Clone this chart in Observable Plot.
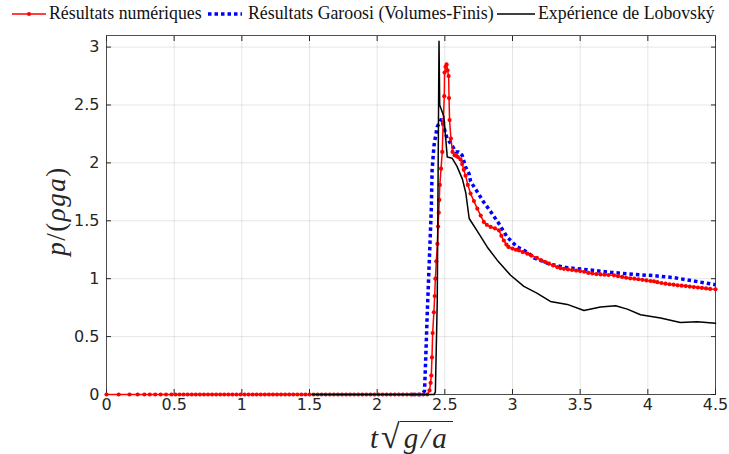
<!DOCTYPE html>
<html>
<head>
<meta charset="utf-8">
<script src="https://cdn.jsdelivr.net/npm/d3@7"></script>
<script src="https://cdn.jsdelivr.net/npm/@observablehq/plot@0.6"></script>
<style>
  html, body { margin: 0; padding: 0; background: #fff; }
  #wrap { position: relative; width: 729px; height: 454px; overflow: hidden; }
  #legend { position: relative; height: 28px; width: 729px; color: #111; font-family: 'Liberation Serif'; font-size: 17.8px; }
  #legend .it { position: absolute; top: 3px; white-space: nowrap; line-height: 20px; }
  #legend svg { position: absolute; top: 4px; }
  .lbl { position: absolute; color: #262626; white-space: nowrap; font-family: 'Liberation Serif'; line-height: 1; }
  .i { font-style: italic; }
</style>
</head>
<body>
<div id="wrap">
  <div id="legend"></div>
  <div id="chart"></div>
  <div class="lbl" id="ylab" style="font-size:27px; letter-spacing:1.5px; left:56px; top:211px; transform: translate(-50%,-50%) rotate(-90deg);"><span class="i">p</span>/(<span class="i">ρga</span>)</div>
  <div class="lbl" id="xlab" style="font-size:29px; left:370px; top:420px;"><span class="i">t</span><span style="font-style:normal; font-size:34px; margin-left:3px;">√</span><span class="i" style="display:inline-block; border-top:1.5px solid #262626; padding:2px 3px 0 4px; letter-spacing:3px; line-height:1;">g/a</span></div>
</div>
<script>
// ---- Data ----
const seriesNames = ["Résultats numériques", "Résultats Garoosi (Volumes-Finis)", "Expérience de Lobovský"];
const seriesColors = ["#ff0000", "#0000ff", "#000000"];

const xTicks = [0, 0.5, 1, 1.5, 2, 2.5, 3, 3.5, 4, 4.5];
const yTicks = [0, 0.5, 1, 1.5, 2, 2.5, 3];

// Numerical results (red)
const redT = [0, 0.09, 0.17, 0.23, 0.28, 0.32, 0.36, 0.40, 0.44, 0.48, 0.51, 0.54, 0.57, 0.60, 0.63, 0.66, 0.69, 0.72, 0.75, 0.78, 0.81, 0.84, 0.87, 0.90, 0.93, 0.96, 0.99, 1.02, 1.05, 1.08, 1.11, 1.14, 1.17, 1.20, 1.23, 1.26, 1.29, 1.32, 1.35, 1.38, 1.41, 1.44, 1.47, 1.50, 1.53, 1.56, 1.59, 1.62, 1.65, 1.68, 1.71, 1.74, 1.77, 1.80, 1.83, 1.86, 1.89, 1.92, 1.95, 1.98, 2.01, 2.04, 2.07, 2.10, 2.13, 2.16, 2.19, 2.22, 2.25, 2.28, 2.31, 2.34, 2.37,
  2.387, 2.395, 2.40, 2.405, 2.41, 2.419, 2.425, 2.43, 2.437, 2.445, 2.45, 2.455, 2.459, 2.463, 2.472, 2.481, 2.488, 2.496, 2.498, 2.505, 2.513, 2.52, 2.528, 2.531, 2.535, 2.545, 2.557, 2.572, 2.585, 2.597, 2.616, 2.628, 2.64, 2.653, 2.67, 2.69, 2.715, 2.74, 2.765, 2.788, 2.81, 2.838, 2.87, 2.9, 2.918, 2.936, 2.955, 2.97, 3.0, 3.025, 3.047, 3.075, 3.109, 3.14, 3.18, 3.21, 3.24, 3.27, 3.3, 3.33, 3.355, 3.38, 3.41, 3.44, 3.47, 3.5, 3.53, 3.56, 3.59, 3.62, 3.65, 3.68, 3.71, 3.75, 3.78, 3.81, 3.84, 3.87, 3.9, 3.93, 3.96, 3.99, 4.02, 4.045, 4.07, 4.1, 4.13, 4.16, 4.19, 4.22, 4.25, 4.28, 4.31, 4.34, 4.37, 4.4, 4.43, 4.46, 4.5];
const redP = [0, 0, 0, 0, 0, 0, 0, 0, 0, 0, 0, 0, 0, 0, 0, 0, 0, 0, 0, 0, 0, 0, 0, 0, 0, 0, 0, 0, 0, 0, 0, 0, 0, 0, 0, 0, 0, 0, 0, 0, 0, 0, 0, 0, 0, 0, 0, 0, 0, 0, 0, 0, 0, 0, 0, 0, 0, 0, 0, 0, 0, 0, 0, 0, 0, 0, 0, 0, 0, 0, 0, 0, 0,
  0.035, 0.1, 0.164, 0.32, 0.53, 0.71, 0.85, 1.0, 1.15, 1.3, 1.45, 1.57, 1.68, 1.81, 1.95, 2.095, 2.35, 2.576, 2.78, 2.83, 2.85, 2.8, 2.75, 2.56, 2.37, 2.21, 2.095, 2.066, 2.06, 2.05, 2.03, 1.99, 1.94, 1.89, 1.81, 1.735, 1.67, 1.605, 1.545, 1.49, 1.465, 1.447, 1.435, 1.418, 1.37, 1.33, 1.295, 1.274, 1.26, 1.25, 1.245, 1.23, 1.216, 1.2, 1.18, 1.16, 1.145, 1.13, 1.115, 1.1, 1.09, 1.085, 1.08, 1.075, 1.07, 1.066, 1.06, 1.05, 1.045, 1.04, 1.037, 1.035, 1.032, 1.029, 1.022, 1.015, 1.008, 1.003, 1.0, 0.995, 0.99, 0.985, 0.98, 0.977, 0.97, 0.963, 0.957, 0.952, 0.948, 0.943, 0.94, 0.936, 0.932, 0.928, 0.924, 0.92, 0.916, 0.912, 0.908];

// Garoosi finite volume results (blue)
const blueT = [2.25, 2.33, 2.35, 2.36, 2.37, 2.38, 2.39, 2.40, 2.406, 2.42, 2.443, 2.475, 2.49, 2.517, 2.554, 2.58, 2.603, 2.628, 2.653, 2.678, 2.69, 2.74, 2.788, 2.838, 2.9, 2.96, 3.035, 3.109, 3.158, 3.28, 3.405, 3.55, 3.725, 3.897, 4.045, 4.193, 4.34, 4.5];
const blueP = [0, 0, 0.03, 0.35, 0.7, 1.0, 1.3, 1.6, 1.94, 2.15, 2.31, 2.38, 2.32, 2.21, 2.15, 2.095, 2.095, 2.066, 1.966, 1.91, 1.84, 1.75, 1.66, 1.58, 1.475, 1.36, 1.274, 1.23, 1.18, 1.124, 1.095, 1.078, 1.055, 1.037, 1.026, 1.009, 0.98, 0.948];

// Lobovský experiment (black)
const blackT = [1.52, 2.42, 2.43, 2.444, 2.457, 2.462, 2.493, 2.518, 2.555, 2.59, 2.63, 2.655, 2.68, 2.74, 2.813, 2.887, 2.986, 3.084, 3.18, 3.28, 3.405, 3.528, 3.65, 3.762, 3.848, 3.946, 4.094, 4.24, 4.365, 4.5];
const blackP = [0, 0, 0.02, 0.81, 3.05, 2.5, 2.40, 2.05, 2.04, 1.97, 1.86, 1.74, 1.52, 1.41, 1.274, 1.16, 1.03, 0.934, 0.876, 0.804, 0.778, 0.726, 0.755, 0.766, 0.737, 0.689, 0.66, 0.622, 0.628, 0.616];

const red = redT.map((t, i) => ({t, p: redP[i]}));
const blue = blueT.map((t, i) => ({t, p: blueP[i]}));
const black = blackT.map((t, i) => ({t, p: blackP[i]}));

// ---- Legend ----
const legend = document.getElementById("legend");
legend.innerHTML = `
  <svg style="left:12px" width="34" height="20"><line x1="0" x2="34" y1="10" y2="10" stroke="${seriesColors[0]}" stroke-width="1.5"/><circle cx="17" cy="10" r="2" fill="${seriesColors[0]}"/></svg>
  <span class="it" style="left:49px">${seriesNames[0]}</span>
  <svg style="left:208px" width="34" height="20"><line x1="0" x2="34" y1="10" y2="10" stroke="${seriesColors[1]}" stroke-width="3.5" stroke-dasharray="3.5,3"/></svg>
  <span class="it" style="left:248px">${seriesNames[1]}</span>
  <svg style="left:497px" width="38" height="20"><line x1="0" x2="38" y1="10" y2="10" stroke="${seriesColors[2]}" stroke-width="1.5"/></svg>
  <span class="it" style="left:538px">${seriesNames[2]}</span>`;

// ---- Chart ----
const fmt = d => String(d);
const chart = Plot.plot({
  width: 729,
  height: 426,
  marginTop: 7,
  marginBottom: 60,
  marginLeft: 106,
  marginRight: 14,
  style: {fontFamily: "'DejaVu Sans'", fontSize: "16px", color: "#262626", background: "white", overflow: "visible"},
  x: {domain: [0, 4.5]},
  y: {domain: [0, 3.1]},
  marks: [
    Plot.gridX(xTicks, {stroke: "#000", strokeOpacity: 0.1, strokeWidth: 1}),
    Plot.gridY(yTicks, {stroke: "#000", strokeOpacity: 0.1, strokeWidth: 1}),
    Plot.frame({stroke: "#262626", strokeOpacity: 0.8}),
    Plot.axisX(xTicks, {anchor: "bottom", tickSize: -5, tickPadding: 9, tickFormat: fmt, label: null}),
    Plot.axisX(xTicks, {anchor: "top", tickSize: -5, tickFormat: () => "", label: null}),
    Plot.axisY(yTicks, {anchor: "left", tickSize: -5, tickPadding: 12, tickFormat: fmt, label: null}),
    Plot.axisY(yTicks, {anchor: "right", tickSize: -5, tickFormat: () => "", label: null}),
    Plot.line(blue, {x: "t", y: "p", stroke: seriesColors[1], strokeWidth: 3.5, strokeDasharray: "3.5,3", strokeLinecap: "butt", strokeLinejoin: "miter"}),
    Plot.line(red, {x: "t", y: "p", stroke: seriesColors[0], strokeWidth: 1.5}),
    Plot.dot(red, {x: "t", y: "p", r: 2.1, fill: seriesColors[0], stroke: "none"}),
    Plot.line(black, {x: "t", y: "p", stroke: seriesColors[2], strokeWidth: 1.5})
  ]
});
document.getElementById("chart").appendChild(chart);
</script>
</body>
</html>
